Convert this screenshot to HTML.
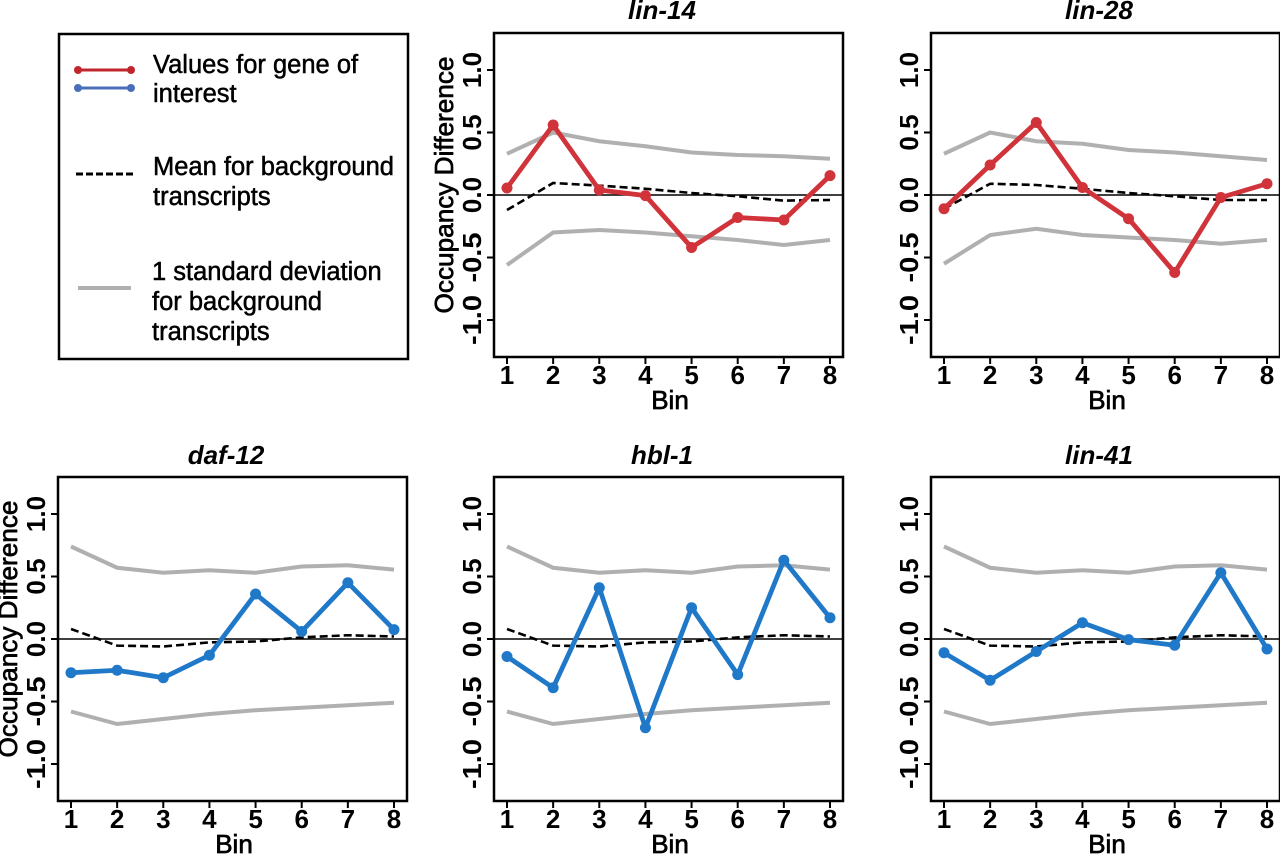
<!DOCTYPE html>
<html><head><meta charset="utf-8"><style>
html,body{margin:0;padding:0;background:#fff;}
svg{display:block;font-family:"Liberation Sans",Arial,sans-serif;}
.tk{font-size:26px;font-weight:bold;text-anchor:middle;}
.ax{font-size:26px;text-anchor:middle;stroke:#000;stroke-width:0.7;}
.ti{font-size:26px;font-weight:bold;font-style:italic;text-anchor:middle;}
.lg{font-size:25.5px;stroke:#000;stroke-width:0.5;}
</style></head><body>
<svg id="s" width="1280" height="855" viewBox="0 0 1280 855" xmlns="http://www.w3.org/2000/svg">
<rect width="1280" height="855" fill="#fff"/>
<rect x="59" y="34" width="349" height="325" fill="none" stroke="#000" stroke-width="2.5"/>
<line x1="78" y1="70" x2="131" y2="70" stroke="#c0272d" stroke-width="3"/>
<circle cx="78" cy="70" r="4" fill="#c0272d"/><circle cx="131" cy="70" r="4" fill="#c0272d"/>
<line x1="78" y1="88" x2="131" y2="88" stroke="#4a6fb8" stroke-width="3"/>
<circle cx="78" cy="88" r="4" fill="#4a6fb8"/><circle cx="131" cy="88" r="4" fill="#4a6fb8"/>
<line x1="76" y1="174" x2="135" y2="174" stroke="#000" stroke-width="3" stroke-dasharray="7,3"/>
<line x1="78" y1="288" x2="131" y2="288" stroke="#b0b0b0" stroke-width="4"/>
<text class="lg" x="153" y="73">Values for gene of</text>
<text class="lg" x="153" y="102">interest</text>
<text class="lg" x="153" y="175">Mean for background</text>
<text class="lg" x="153" y="205">transcripts</text>
<text class="lg" x="152" y="280">1 standard deviation</text>
<text class="lg" x="152" y="310">for background</text>
<text class="lg" x="152" y="340">transcripts</text>

<g id="p1" transform="translate(494,33)">
<text class="ti" x="168" y="-14">lin-14</text>
<text class="ax" transform="translate(-41,152) rotate(-90)" textLength="257" lengthAdjust="spacingAndGlyphs">Occupancy Difference</text>
</g>
<g id="p2" transform="translate(931,33)">
<text class="ti" x="168" y="-14">lin-28</text>
</g>
<g id="p3" transform="translate(58,477)">
<text class="ti" x="168" y="-13">daf-12</text>
<text class="ax" transform="translate(-41,152) rotate(-90)" textLength="257" lengthAdjust="spacingAndGlyphs">Occupancy Difference</text>
</g>
<g id="p4" transform="translate(494,477)">
<text class="ti" x="168" y="-13">hbl-1</text>
</g>
<g id="p5" transform="translate(931,477)">
<text class="ti" x="168" y="-13">lin-41</text>
</g>

<g id="common">
<text class="tk" transform="translate(-13,37) rotate(-90)">1.0</text>
<text class="tk" transform="translate(-13,99.5) rotate(-90)">0.5</text>
<text class="tk" transform="translate(-13,162) rotate(-90)">0.0</text>
<text class="tk" transform="translate(-13,224.5) rotate(-90)" textLength="50" lengthAdjust="spacingAndGlyphs">-0.5</text>
<text class="tk" transform="translate(-13,287) rotate(-90)" textLength="50" lengthAdjust="spacingAndGlyphs">-1.0</text>
<text class="tk" x="13" y="351">1</text>
<text class="tk" x="59.1" y="351">2</text>
<text class="tk" x="105.3" y="351">3</text>
<text class="tk" x="151.4" y="351">4</text>
<text class="tk" x="197.6" y="351">5</text>
<text class="tk" x="243.7" y="351">6</text>
<text class="tk" x="289.9" y="351">7</text>
<text class="tk" x="336" y="351">8</text>
<text class="ax" x="176" y="376">Bin</text>
</g>
</svg>
<script>
const NS="http://www.w3.org/2000/svg";
const X=i=>13+46.143*i, Y=v=>162-125*v;
const topU=[.33,.5,.43,.39,.34,.32,.31,.29], topL=[-.56,-.3,-.28,-.3,-.33,-.36,-.4,-.36], topM=[-.12,.096,.075,.05,.016,-.01,-.045,-.04];
const t2U=[.33,.5,.43,.41,.36,.34,.31,.28], t2L=[-.55,-.32,-.27,-.32,-.34,-.36,-.39,-.36], t2M=[-.11,.09,.08,.05,.016,-.01,-.04,-.04];
const bU=[.74,.57,.53,.55,.53,.58,.59,.555], bL=[-.58,-.68,-.64,-.6,-.57,-.55,-.53,-.51], bM=[.08,-.053,-.06,-.027,-.02,.013,.03,.02];
const R="#d0343a", B="#1f78c8";
const P=[
 ["p1",topU,topL,topM,[.056,.56,.04,-.005,-.42,-.18,-.2,.155],R],
 ["p2",t2U,t2L,t2M,[-.11,.24,.58,.06,-.19,-.62,-.02,.09],R],
 ["p3",bU,bL,bM,[-.27,-.25,-.31,-.13,.36,.06,.45,.075],B],
 ["p4",bU,bL,bM,[-.14,-.39,.41,-.71,.25,-.285,.63,.17],B],
 ["p5",bU,bL,bM,[-.11,-.33,-.1,.13,-.005,-.05,.53,-.08],B]];
const common=document.getElementById("common");
function el(g,n,a){const e=document.createElementNS(NS,n);for(const k in a)e.setAttribute(k,a[k]);g.appendChild(e);return e;}
function pl(g,d,a){a.points=d.map((v,i)=>X(i)+","+Y(v)).join(" ");a.fill="none";el(g,"polyline",a);}
for(const [id,U,L,M,V,c] of P){
 const g=document.getElementById(id);
 el(g,"line",{x1:0,x2:349,y1:162,y2:162,stroke:"#000","stroke-width":1.5});
 pl(g,U,{stroke:"#b0b0b0","stroke-width":4});
 pl(g,L,{stroke:"#b0b0b0","stroke-width":4});
 pl(g,M,{stroke:"#000","stroke-width":2.6,"stroke-dasharray":"8,4"});
 pl(g,V,{stroke:c,"stroke-width":4.8,"stroke-linejoin":"round"});
 V.forEach((v,i)=>el(g,"circle",{cx:X(i),cy:Y(v),r:5.5,fill:c}));
 el(g,"rect",{x:0,y:0,width:349,height:324,fill:"none",stroke:"#000","stroke-width":2.5});
 for(let i=0;i<8;i++)el(g,"line",{x1:X(i),x2:X(i),y1:324,y2:331,stroke:"#000","stroke-width":2});
 for(let k=0;k<5;k++)el(g,"line",{x1:0,x2:-7,y1:37+62.5*k,y2:37+62.5*k,stroke:"#000","stroke-width":2});
 g.appendChild(common.cloneNode(true)).removeAttribute("id");
}
common.remove();
</script>
</body></html>
